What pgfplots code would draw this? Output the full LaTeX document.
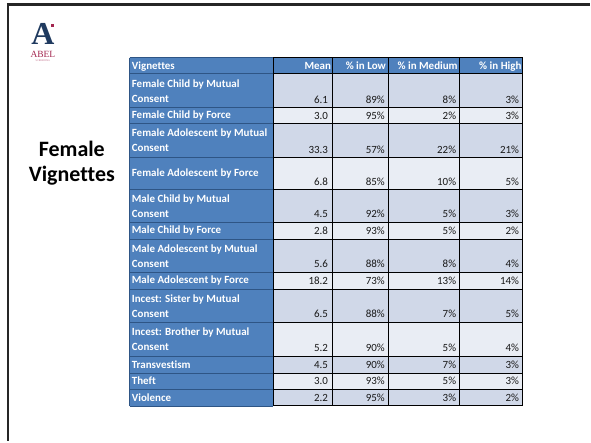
\documentclass[border=0pt]{standalone}
\usepackage{pgfplots}
\pgfplotsset{compat=1.18}
\usepackage{pgfplotstable}
\usepackage{fontspec}
\setmainfont[Ligatures=NoCommon]{Carlito}
\newfontfamily\logofont{Liberation Serif}
\definecolor{hdrblue}{HTML}{4F81BD}
\definecolor{rowA}{HTML}{D0D8E8}
\definecolor{rowB}{HTML}{E9EDF4}
\definecolor{lineblue}{HTML}{2E5585}
\definecolor{navy}{HTML}{1F3A5F}
\definecolor{maroon}{HTML}{A3264F}

\pgfplotstableread[col sep=semicolon]{
top;bot;label;mean;low;med;high
74;108;{Female Child by Mutual\\Consent};6.1;89;8;3
108;124;{Female Child by Force};3.0;95;2;3
124;158;{Female Adolescent by Mutual\\Consent};33.3;57;22;21
158;190;{Female Adolescent by Force};6.8;85;10;5
190;223;{Male Child by Mutual\\Consent};4.5;92;5;3
223;240;{Male Child by Force};2.8;93;5;2
240;273;{Male Adolescent by Mutual\\Consent};5.6;88;8;4
273;290;{Male Adolescent by Force};18.2;73;13;14
290;323;{Incest: Sister by Mutual\\Consent};6.5;88;7;5
323;357;{Incest: Brother by Mutual\\Consent};5.2;90;5;4
357;374;{Transvestism};4.5;90;7;3
374;390;{Theft};3.0;93;5;3
390;407;{Violence};2.2;95;3;2
}\datatbl

\begin{document}
\begin{tikzpicture}
\begin{axis}[width=591bp,height=442bp,scale only axis,
  xmin=0,xmax=591,ymin=0,ymax=442,y dir=reverse,
  hide axis,clip=false,unbounded coords=jump]
% background
\addplot[draw=none,fill=white] coordinates {(0,0)(591,0)(591,442)(0,442)} --cycle;
% slide border
\addplot[color=black!85,line width=3bp] coordinates {(6.8,4.6)(591,4.6)};
\addplot[color=black!85,line width=2.6bp] coordinates {(8.2,3.1)(8.2,442)};
% label column and header
\addplot[draw=none,fill=hdrblue] coordinates {(130,58)(274,58)(274,407)(130,407)} --cycle;
\addplot[draw=none,fill=hdrblue] coordinates {(274,58)(524,58)(524,74)(274,74)} --cycle;
% data rows
\addplot[draw=none,fill=rowA] coordinates {(274,74)(524,74)(524,108)(274,108)} --cycle;
\addplot[draw=none,fill=rowB] coordinates {(274,108)(524,108)(524,124)(274,124)} --cycle;
\addplot[draw=none,fill=rowA] coordinates {(274,124)(524,124)(524,158)(274,158)} --cycle;
\addplot[draw=none,fill=rowB] coordinates {(274,158)(524,158)(524,190)(274,190)} --cycle;
\addplot[draw=none,fill=rowA] coordinates {(274,190)(524,190)(524,223)(274,223)} --cycle;
\addplot[draw=none,fill=rowB] coordinates {(274,223)(524,223)(524,240)(274,240)} --cycle;
\addplot[draw=none,fill=rowA] coordinates {(274,240)(524,240)(524,273)(274,273)} --cycle;
\addplot[draw=none,fill=rowB] coordinates {(274,273)(524,273)(524,290)(274,290)} --cycle;
\addplot[draw=none,fill=rowA] coordinates {(274,290)(524,290)(524,323)(274,323)} --cycle;
\addplot[draw=none,fill=rowB] coordinates {(274,323)(524,323)(524,357)(274,357)} --cycle;
\addplot[draw=none,fill=rowA] coordinates {(274,357)(524,357)(524,374)(274,374)} --cycle;
\addplot[draw=none,fill=rowB] coordinates {(274,374)(524,374)(524,390)(274,390)} --cycle;
\addplot[draw=none,fill=rowA] coordinates {(274,390)(524,390)(524,407)(274,407)} --cycle;
% label column row lines
\addplot[color=lineblue,line width=0.9bp] coordinates {
 (130,74)(274,74) (nan,nan) (130,108)(274,108) (nan,nan) (130,124)(274,124) (nan,nan)
 (130,158)(274,158) (nan,nan) (130,190)(274,190) (nan,nan) (130,223)(274,223) (nan,nan)
 (130,240)(274,240) (nan,nan) (130,273)(274,273) (nan,nan) (130,290)(274,290) (nan,nan)
 (130,323)(274,323) (nan,nan) (130,357)(274,357) (nan,nan) (130,374)(274,374) (nan,nan)
 (130,390)(274,390) (nan,nan) (130,58)(274,58) (nan,nan) (130,407)(274,407) (nan,nan)
 (130,58)(130,407)};
% data grid lines
\addplot[color=black,line width=1bp] coordinates {
 (274,74)(524,74) (nan,nan) (274,108)(524,108) (nan,nan) (274,124)(524,124) (nan,nan)
 (274,158)(524,158) (nan,nan) (274,190)(524,190) (nan,nan) (274,223)(524,223) (nan,nan)
 (274,240)(524,240) (nan,nan) (274,273)(524,273) (nan,nan) (274,290)(524,290) (nan,nan)
 (274,323)(524,323) (nan,nan) (274,357)(524,357) (nan,nan) (274,374)(524,374) (nan,nan)
 (274,390)(524,390) (nan,nan) (274,407)(524,407) (nan,nan) (274,58)(524,58) (nan,nan)
 (274,58)(274,407) (nan,nan) (333,58)(333,407) (nan,nan) (389,58)(389,407) (nan,nan)
 (461,58)(461,407) (nan,nan) (524,58)(524,407)};
% header texts
\node[anchor=base west,text=white,font=\fontsize{11bp}{13bp}\selectfont\bfseries,inner sep=0pt] at (axis cs:132,70) {Vignettes};
\node[anchor=base east,text=white,font=\fontsize{11bp}{13bp}\selectfont\bfseries,inner sep=0pt] at (axis cs:332,70) {Mean};
\node[anchor=base east,text=white,font=\fontsize{11bp}{13bp}\selectfont\bfseries,inner sep=0pt] at (axis cs:387,70) {\% in Low};
\node[anchor=base east,text=white,font=\fontsize{11bp}{13bp}\selectfont\bfseries,inner sep=0pt] at (axis cs:459,70) {\% in Medium};
\node[anchor=base east,text=white,font=\fontsize{11bp}{13bp}\selectfont\bfseries,inner sep=0pt] at (axis cs:523,70) {\% in High};
% row labels
\addplot[draw=none,mark=none,point meta=explicit symbolic,
  nodes near coords={\pgfplotspointmeta},
  nodes near coords style={anchor=west,align=left,text=white,inner sep=0pt,
    font=\fontsize{11bp}{15bp}\selectfont\bfseries}]
  table[x expr=132,y expr=(\thisrow{top}+\thisrow{bot})/2,meta=label]{\datatbl};
% values
\pgfplotsset{valstyle/.style={draw=none,mark=none,point meta=explicit symbolic,
  nodes near coords style={anchor=base east,text=black!90,inner sep=0pt,
    font=\fontsize{11bp}{13bp}\selectfont}}}
\addplot[valstyle,nodes near coords={\pgfplotspointmeta}]
  table[x expr=329,y expr=\thisrow{bot}-4.5,meta=mean]{\datatbl};
\addplot[valstyle,nodes near coords={\pgfplotspointmeta\%}]
  table[x expr=386,y expr=\thisrow{bot}-4.5,meta=low]{\datatbl};
\addplot[valstyle,nodes near coords={\pgfplotspointmeta\%}]
  table[x expr=457.5,y expr=\thisrow{bot}-4.5,meta=med]{\datatbl};
\addplot[valstyle,nodes near coords={\pgfplotspointmeta\%}]
  table[x expr=520.5,y expr=\thisrow{bot}-4.5,meta=high]{\datatbl};
% side title
\node[align=center,font=\fontsize{22bp}{25bp}\selectfont\bfseries,anchor=base,inner sep=0pt] at (axis cs:72,182) {Female\\Vignettes};
% logo
\node[anchor=base,text=navy,font=\fontsize{32bp}{32bp}\selectfont\logofont\bfseries,inner sep=0pt] at (axis cs:43,45) {A};
\addplot[draw=none,fill=maroon] coordinates {(51,24)(54,24)(54,27)(51,27)} --cycle;
\node[anchor=base,text=maroon,font=\fontsize{9.5bp}{10bp}\selectfont\logofont,inner sep=0pt] at (axis cs:43,58) {ABEL};
\node[anchor=base,text=maroon!70,font=\fontsize{2.6bp}{3bp}\selectfont\logofont,inner sep=0pt] at (axis cs:43,62) {SCREENING};
\end{axis}
\end{tikzpicture}
\end{document}
